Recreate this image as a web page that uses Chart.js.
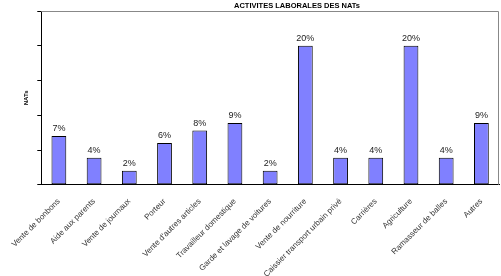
<!DOCTYPE html>
<html>
<head>
<meta charset="utf-8">
<script src="https://cdn.jsdelivr.net/npm/chart.js@4"></script>
<style>
  html, body { margin: 0; padding: 0; background: #fff; }
  #wrap { width: 501px; height: 276px; }
</style>
</head>
<body>
<div id="wrap"><canvas id="chart"></canvas></div>
<script>
// categories and values
const categories = [
  'Vente de bonbons', 'Aide aux parents', 'Vente de journaux', 'Porteur',
  "Vente d'autres articles", 'Travailleur domestique', 'Garde et lavage de voitures',
  'Vente de nourriture', 'Caissier transport urbain privé', 'Carrières',
  'Agriculture', 'Ramasseur de balles', 'Autres'
];
const percentValues = [7.0, 3.9, 2.0, 6.0, 7.8, 8.9, 2.0, 20.0, 3.9, 3.9, 20.0, 3.9, 8.9];
const yTicks = [0, 5, 10, 15, 20, 25];
const chartTitle = 'ACTIVITES LABORALES DES NATs';
const yTitle = 'NATs';

const FONT = 'Arial, "Liberation Sans", sans-serif';

// percentage labels above each bar
const barLabels = {
  id: 'barLabels',
  afterDatasetsDraw(chart) {
    const ctx = chart.ctx;
    const meta = chart.getDatasetMeta(0);
    ctx.save();
    ctx.font = '9px ' + FONT;
    ctx.fillStyle = '#222';
    ctx.textAlign = 'center';
    ctx.textBaseline = 'alphabetic';
    meta.data.forEach((bar, i) => {
      ctx.fillText(Math.round(percentValues[i]) + '%', bar.x, bar.y - 5);
    });
    ctx.restore();
  }
};

// grey top/right frame of the plot area, plus the title
const frame = {
  id: 'frame',
  beforeDatasetsDraw(chart) {
    const { ctx, chartArea: a } = chart;
    ctx.save();
    ctx.strokeStyle = '#888';
    ctx.lineWidth = 1;
    ctx.beginPath();
    ctx.moveTo(a.left, a.top + 0.5);
    ctx.lineTo(a.right - 0.5, a.top + 0.5);
    ctx.lineTo(a.right - 0.5, a.bottom);
    ctx.stroke();
    ctx.restore();
  },
  afterDraw(chart) {
    const ctx = chart.ctx;
    ctx.save();
    ctx.font = 'bold 7.5px ' + FONT;
    ctx.fillStyle = '#000';
    ctx.textAlign = 'center';
    ctx.fillText(chartTitle, 297, 8);
    ctx.restore();
  }
};

new Chart(document.getElementById('chart'), {
  type: 'bar',
  data: {
    labels: categories,
    datasets: [{
      data: percentValues,
      backgroundColor: '#8080ff',
      borderColor: '#000',
      borderWidth: 1,
      borderSkipped: false,
      barPercentage: 0.42,
      categoryPercentage: 1.0
    }]
  },
  options: {
    responsive: true,
    maintainAspectRatio: false,
    animation: false,
    layout: { padding: { left: 11, right: 2, top: 11, bottom: -15 } },
    plugins: {
      legend: { display: false },
      tooltip: { enabled: false },
      title: { display: false }
    },
    scales: {
      x: {
        grid: { display: false, drawTicks: false },
        border: { color: '#000', width: 1 },
        ticks: {
          font: { family: FONT, size: 8 },
          color: '#333',
          minRotation: 45,
          maxRotation: 45,
          padding: 12,
          autoSkip: false
        }
      },
      y: {
        min: yTicks[0],
        max: yTicks[yTicks.length - 1],
        afterBuildTicks(scale) {
          scale.ticks = yTicks.map(v => ({ value: v }));
        },
        grid: { drawOnChartArea: false, drawTicks: true, tickLength: 4, color: '#000' },
        border: { color: '#000', width: 1 },
        ticks: { display: false },
        title: {
          display: true,
          text: yTitle,
          font: { family: FONT, size: 6, weight: 'bold' },
          color: '#000',
          padding: { top: 4, bottom: 7 }
        }
      }
    }
  },
  plugins: [barLabels, frame]
});
</script>
</body>
</html>
